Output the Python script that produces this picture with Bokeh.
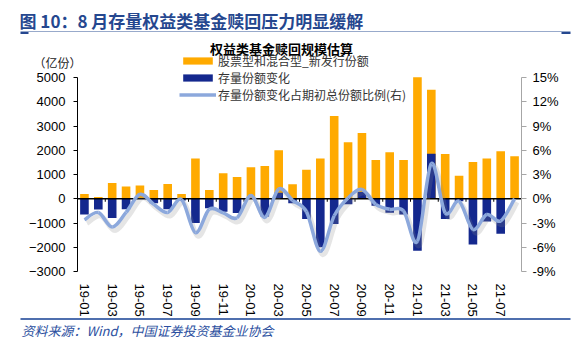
from bokeh.plotting import figure
from bokeh.models import (Range1d, LinearAxis, FixedTicker, PrintfTickFormatter, Label,
                          BoxAnnotation, Legend, LegendItem)
from bokeh.embed import file_html
from bokeh.resources import INLINE

# ---------------- data ----------------
months = ["19-01", "19-02", "19-03", "19-04", "19-05", "19-06", "19-07", "19-08",
          "19-09", "19-10", "19-11", "19-12", "20-01", "20-02", "20-03", "20-04",
          "20-05", "20-06", "20-07", "20-08", "20-09", "20-10", "20-11", "20-12",
          "21-01", "21-02", "21-03", "21-04", "21-05", "21-06", "21-07", "21-08"]
new_issue = [200, 70, 650, 510, 550, 360, 610, 200, 1660, 360, 1050, 900,
             1300, 1350, 2000, 600, 1200, 1660, 3410, 2330, 2710, 1600, 1920, 1600,
             5010, 4500, 1850, 950, 1520, 1660, 1960, 1750]
stock_change = [-650, -440, -790, -430, 30, -190, -430, -70, -1000, -390, -540, -590,
                20, -730, 250, -190, -830, -2000, -1040, -230, 280, -290, -580, -650,
                -2140, 1860, -830, -100, -1890, -940, -1440, 0]
ratio_pct = [-2.6, -1.7, -3.5, -1.7, 0.55, -0.7, -1.7, -0.1, -4.2, -1.3, -1.75, -2.35,
             0.4, -2.3, 1.2, -0.2, -1.6, -6.5, -2.1, 0.1, 1.15, -0.7, -1.3, -1.5,
             -5.25, 4.35, -1.75, -0.3, -3.8, -1.95, -2.75, 0.0]
left_ticks = [-3000, -2000, -1000, 0, 1000, 2000, 3000, 4000, 5000]
right_ticks = [-9, -6, -3, 0, 3, 6, 9, 12, 15]
series_names = ["股票型和混合型_新发行份额", "存量份额变化", "存量份额变化占期初总份额比例(右)"]
heading = "图 10：8 月存量权益类基金赎回压力明显缓解"
chart_title = "权益类基金赎回规模估算"
unit_text = "（亿份）"
source_text = "资料来源：Wind，中国证券投资基金业协会"

# ---------------- layout constants (pixels) ----------------
W, H = 578, 345
PL, PR, PT, PB = 77, 521, 77, 271      # plot-area edges on the canvas
ORANGE = "#FFAA00"
NAVY = "#14288E"
LINEBLUE = "#8CA8DC"
HEAD_BLUE = "#25478F"
CJK = "Noto Sans CJK SC"
LAT = "Liberation Sans"

n = len(months)
idx = list(range(n))

# ranges chosen so that the whole canvas is the frame, and the data area sits at PL..PR / PT..PB
x_lo, x_hi = -0.5, n - 0.5
ux = (x_hi - x_lo) / (PR - PL)
y_lo, y_hi = left_ticks[0], left_ticks[-1]
uy = (y_hi - y_lo) / (PB - PT)
r_lo, r_hi = right_ticks[0], right_ticks[-1]
ur = (r_hi - r_lo) / (PB - PT)

p = figure(width=W, height=H, output_backend="svg", toolbar_location=None,
           x_range=Range1d(x_lo - PL * ux, x_hi + (W - PR) * ux),
           y_range=Range1d(y_lo - (H - PB) * uy, y_hi + PT * uy),
           min_border=0)
p.extra_y_ranges = {"pct": Range1d(r_lo - (H - PB) * ur, r_hi + PT * ur)}
p.outline_line_color = None
p.xgrid.visible = False
p.ygrid.visible = False
p.background_fill_color = "white"
p.border_fill_color = "white"

# x axis: labels below the plot area
xa = p.xaxis[0]
xa.fixed_location = y_lo
xa.ticker = FixedTicker(ticks=idx[::2])
xa.major_label_overrides = {i: months[i] for i in idx[::2]}
xa.major_label_orientation = "vertical"
xa.axis_line_color = None
xa.major_tick_line_color = None
xa.minor_tick_line_color = None
xa.major_tick_out = 0
xa.major_tick_in = 0
xa.major_label_standoff = 12
xa.major_label_text_font = LAT
xa.major_label_text_font_size = "13px"
xa.major_label_text_color = "black"

# left axis
ya = p.yaxis[0]
ya.fixed_location = x_lo
ya.bounds = (y_lo, y_hi)
ya.ticker = FixedTicker(ticks=left_ticks)
ya.axis_line_color = "black"
ya.major_tick_line_color = "black"
ya.major_tick_out = 4
ya.major_tick_in = 0
ya.minor_tick_line_color = None
ya.major_label_standoff = 8
ya.major_label_text_font = LAT
ya.major_label_text_font_size = "13px"
ya.major_label_text_color = "black"

# right axis
ra = LinearAxis(y_range_name="pct", ticker=FixedTicker(ticks=right_ticks),
                formatter=PrintfTickFormatter(format="%d%%"))
ra.fixed_location = x_hi
ra.bounds = (r_lo, r_hi)
ra.axis_line_color = "#A6A6A6"
ra.major_tick_line_color = "#A6A6A6"
ra.major_tick_out = 5
ra.major_tick_in = 0
ra.minor_tick_line_color = None
ra.major_label_standoff = 6
ra.major_label_text_font = LAT
ra.major_label_text_font_size = "13px"
ra.major_label_text_color = "black"
p.add_layout(ra, "right")

# bars
r_new = p.vbar(x=idx, top=new_issue, width=0.62, fill_color=ORANGE, line_color=None)
r_chg = p.vbar(x=idx, top=stock_change, bottom=0, width=0.62, fill_color=NAVY, line_color=None)

# zero baseline (across the plot area) and its small category ticks
p.segment(x0=[x_lo], y0=[0], x1=[x_hi], y1=[0], line_color="black", line_width=1.5)
tick_x = [i + 0.5 for i in idx[1::2]]
p.segment(x0=tick_x, y0=[0] * len(tick_x), x1=tick_x, y1=[-3 * uy] * len(tick_x),
          line_color="black", line_width=1)


# smoothed ratio line (Catmull-Rom -> cubic bezier)
def bezier_parts(xs, ys):
    x0, y0, x1, y1, cx0, cy0, cx1, cy1 = [], [], [], [], [], [], [], []
    m = len(xs)
    for i in range(m - 1):
        pa = max(i - 1, 0)
        pb = min(i + 2, m - 1)
        x0.append(xs[i]); y0.append(ys[i])
        x1.append(xs[i + 1]); y1.append(ys[i + 1])
        cx0.append(xs[i] + (xs[i + 1] - xs[pa]) / 6.0)
        cy0.append(ys[i] + (ys[i + 1] - ys[pa]) / 6.0)
        cx1.append(xs[i + 1] - (xs[pb] - xs[i]) / 6.0)
        cy1.append(ys[i + 1] - (ys[pb] - ys[i]) / 6.0)
    return dict(x0=x0, y0=y0, x1=x1, y1=y1, cx0=cx0, cy0=cy0, cx1=cx1, cy1=cy1)


sh = bezier_parts([x + 2.5 * ux for x in idx], [y - 3.5 * ur for y in ratio_pct])
p.bezier(y_range_name="pct", line_color="#8a8a8a", line_alpha=0.22, line_width=5, **sh)
bz = bezier_parts(idx, ratio_pct)
r_line = p.bezier(y_range_name="pct", line_color=LINEBLUE, line_width=3.5, **bz)

# legend
legend = Legend(items=[LegendItem(label=series_names[0], renderers=[r_new]),
                       LegendItem(label=series_names[1], renderers=[r_chg]),
                       LegendItem(label=series_names[2], renderers=[r_line])],
                location=(179, H - 103), orientation="vertical")
legend.border_line_color = None
legend.background_fill_alpha = 0
legend.padding = 0
legend.margin = 0
legend.spacing = 0
legend.glyph_width = 37
legend.glyph_height = 9
legend.label_height = 15
legend.label_standoff = 2
legend.label_text_font = CJK
legend.label_text_font_size = "12px"
legend.label_text_line_height = 1.0
legend.label_text_color = "#333333"
legend.label_text_baseline = "middle"
p.add_layout(legend)


# texts and rules around the plot area (screen units: canvas, origin bottom-left)
def label(text, cx, cy, size, color="black", style="normal", align="left", font=CJK):
    p.add_layout(Label(x=cx, y=H - cy, x_units="screen", y_units="screen", text=text,
                       text_font=font, text_font_size=size, text_color=color,
                       text_font_style=style, text_align=align, text_baseline="middle"))


def rule(cx0, cx1, cy0, cy1, color):
    p.add_layout(BoxAnnotation(left=cx0, right=cx1, top=H - cy0, bottom=H - cy1,
                               left_units="screen", right_units="screen",
                               top_units="screen", bottom_units="screen",
                               fill_color=color, fill_alpha=1, line_color=None))


label(heading, 19, 20, "17px", color=HEAD_BLUE, style="bold")
rule(20, 570, 30.5, 31.5, "#98AACB")
rule(20, 28, 31.5, 33.5, HEAD_BLUE)
rule(561, 570, 31.5, 33.5, HEAD_BLUE)
label(chart_title, 281, 48, "13px", style="bold", align="center")
label(unit_text, 33, 62, "12px", color="#222222")
rule(20, 570, 317.5, 319.5, "#4F6FAE")
label(source_text, 21, 330, "13px", color="#2B4FA0", style="italic")

open("out.html", "w").write(file_html(p, INLINE))
